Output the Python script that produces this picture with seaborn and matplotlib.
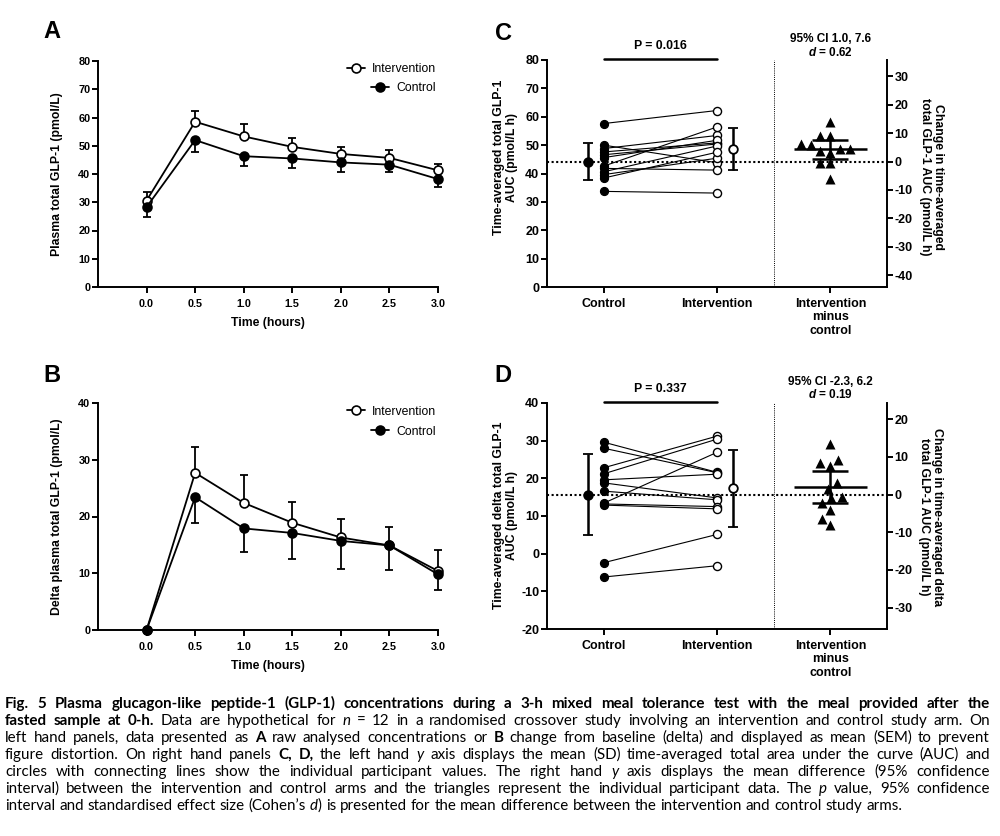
import numpy as np
import pandas as pd
import matplotlib
matplotlib.use("Agg")
import matplotlib.pyplot as plt
import seaborn as sns

# ---------------- data ----------------
times = [0.0, 0.5, 1.0, 1.5, 2.0, 2.5, 3.0]
time_labels = ["0.0", "0.5", "1.0", "1.5", "2.0", "2.5", "3.0"]
arms = ["Intervention", "Control"]

# Panel A: plasma total GLP-1, mean (SEM)
a_int_mean = [30.6, 58.5, 53.3, 49.6, 47.1, 45.7, 41.3]
a_int_sem = [3.0, 3.9, 4.3, 3.2, 2.4, 2.9, 2.4]
a_ctl_mean = [28.3, 52.0, 46.3, 45.5, 44.1, 43.3, 38.2]
a_ctl_sem = [3.4, 4.2, 3.4, 3.2, 3.3, 2.5, 2.9]

# Panel B: delta plasma total GLP-1, mean (SEM)
b_int_mean = [0.0, 27.7, 22.4, 18.9, 16.3, 14.9, 10.4]
b_int_sem = [0.0, 4.6, 5.0, 3.6, 3.3, 3.2, 3.7]
b_ctl_mean = [0.0, 23.4, 17.9, 17.1, 15.7, 14.9, 9.8]
b_ctl_sem = [0.0, 4.5, 4.1, 4.6, 4.9, 4.3, 2.7]

# Panel C: time-averaged total GLP-1 AUC, individual participants
c_control = [57.6, 50.0, 48.8, 47.6, 46.6, 45.6, 42.6, 41.8, 40.6, 39.6, 38.4, 33.7]
c_intervention = [62.2, 43.8, 53.4, 50.8, 50.4, 51.7, 56.4, 41.2, 49.7, 45.4, 47.5, 33.1]
c_group_mean = [44.2, 48.5]
c_group_sd = [6.4, 7.4]
c_diff_mean = 4.3
c_diff_ci = [1.0, 7.6]

# Panel D: time-averaged delta total GLP-1 AUC, individual participants
d_control = [29.6, 28.0, 22.8, 21.2, 19.6, 18.8, 16.6, 13.4, 13.2, 12.9, -2.4, -6.2]
d_intervention = [21.6, 21.5, 31.2, 30.4, 21.1, 14.8, 14.3, 26.9, 12.5, 11.9, 5.1, -3.2]
d_group_mean = [15.7, 17.4]
d_group_sd = [10.8, 10.2]
d_diff_mean = 1.9
d_diff_ci = [-2.3, 6.2]

group_labels = ["Control", "Intervention", "Intervention\nminus\ncontrol"]

caption_lines = [
    [("Fig. 5", "b"), (" Plasma glucagon-like peptide-1 (GLP-1) concentrations during a 3-h mixed meal tolerance test with the meal provided after the", "b")],
    [("fasted sample at 0-h.", "b"), (" Data are hypothetical for ", "r"), ("n", "i"),
     (" = 12 in a randomised crossover study involving an intervention and control study arm. On", "r")],
    [("left hand panels, data presented as ", "r"), ("A", "b"), (" raw analysed concentrations or ", "r"), ("B", "b"),
     (" change from baseline (delta) and displayed as mean (SEM) to prevent", "r")],
    [("figure distortion. On right hand panels ", "r"), ("C, D,", "b"), (" the left hand ", "r"), ("y", "i"),
     (" axis displays the mean (SD) time-averaged total area under the curve (AUC) and", "r")],
    [("circles with connecting lines show the individual participant values. The right hand ", "r"), ("y", "i"),
     (" axis displays the mean difference (95% confidence", "r")],
    [("interval) between the intervention and control arms and the triangles represent the individual participant data. The ", "r"),
     ("p", "i"), (" value, 95% confidence", "r")],
    [("interval and standardised effect size (Cohen\u2019s ", "r"), ("d", "i"),
     (") is presented for the mean difference between the intervention and control study arms.", "r")],
]

# ---------------- style ----------------
sns.set_theme(style="ticks", rc={
    "axes.edgecolor": "black", "axes.linewidth": 1.4, "text.color": "black",
    "axes.labelcolor": "black", "xtick.color": "black", "ytick.color": "black",
    "xtick.major.width": 1.4, "ytick.major.width": 1.4,
    "xtick.major.size": 4, "ytick.major.size": 4,
})
plt.rcParams["font.family"] = ["Liberation Sans", "DejaVu Sans"]
plt.rcParams["font.weight"] = "bold"
plt.rcParams["axes.labelweight"] = "bold"
plt.rcParams["axes.unicode_minus"] = False
plt.rcParams["mathtext.fontset"] = "custom"
plt.rcParams["mathtext.it"] = "Liberation Sans:italic:bold"
plt.rcParams["mathtext.rm"] = "Liberation Sans:bold"

W, H = 1000, 836
fig = plt.figure(figsize=(W / 100, H / 100), dpi=100)
fig.patch.set_facecolor("white")


def rect(l, t, r, b):
    return [l / W, 1 - b / H, (r - l) / W, (b - t) / H]


axA = fig.add_axes(rect(98, 61, 438, 287))
axB = fig.add_axes(rect(98, 403, 438, 630))
axC = fig.add_axes(rect(547, 60, 887, 287))
axD = fig.add_axes(rect(547, 403, 887, 629))


def timecourse(ax, im, isem, cm, csem, ylim, ystep, ylabel, leg_y):
    n = len(times)
    df = pd.DataFrame({"time": times * 2, "value": im + cm, "arm": ["Intervention"] * n + ["Control"] * n})
    sems = {"Intervention": isem, "Control": csem}
    faces = {"Intervention": "white", "Control": "black"}
    handles = {}
    for arm in arms:
        sub = df[df["arm"] == arm]
        k = len(ax.lines)
        sns.lineplot(data=sub, x="time", y="value", ax=ax, color="black", lw=1.3,
                     marker="o", ms=6.4, mfc=faces[arm], mec="black", mew=1.2,
                     clip_on=False, zorder=4 if arm == "Control" else 3.5, legend=False)
        handles[arm] = ax.lines[k]
        zeros = [0.0] * n
        yerr = [zeros, sems[arm]] if arm == "Intervention" else [sems[arm], zeros]
        eb = ax.errorbar(sub["time"], sub["value"], yerr=yerr, fmt="none", ecolor="black",
                         elinewidth=1.3, capsize=2.8, capthick=1.3, zorder=3)
        for art in list(eb.lines[1]) + list(eb.lines[2]):
            art.set_clip_on(False)
    for i, arm in enumerate(arms):
        leg = ax.legend([handles[arm]], [arm], loc="upper right", bbox_to_anchor=(0.995, leg_y[i]),
                        frameon=False, handlelength=1.5, handletextpad=0.6, borderaxespad=0,
                        borderpad=0, prop={"weight": "normal", "size": 8.8})
        if i == 0:
            ax.add_artist(leg)
    ax.set_xlim(-0.5, 3.0)
    ax.set_ylim(*ylim)
    ax.set_xticks(times)
    ax.set_xticklabels(time_labels)
    ax.set_yticks(np.arange(ylim[0], ylim[1] + 1, ystep))
    ax.set_xlabel("Time (hours)", fontsize=8.8, fontweight="bold", labelpad=6)
    ax.set_ylabel(ylabel, fontsize=8.8, fontweight="bold", va="center", ha="center")
    ax.yaxis.set_label_coords(-0.12, 0.5)
    ax.tick_params(axis="x", labelsize=7.8, pad=4.5)
    ax.tick_params(axis="y", labelsize=7.8, pad=1.5)
    for lab in ax.get_xticklabels() + ax.get_yticklabels():
        lab.set_fontweight("bold")
    sns.despine(ax=ax)


def paired(ax, ctl, itv, gmean, gsd, dmean, dci, ylim, ystep, rticks, ylabel, rlabel,
           ptxt, citxt, dtxt, lab_xy, rlab_xy, text_y):
    n = len(ctl)
    long = pd.DataFrame({"pid": list(range(n)) * 2, "x": [0.0] * n + [1.0] * n, "value": ctl + itv})
    sns.lineplot(data=long, x="x", y="value", units="pid", estimator=None, color="black",
                 lw=0.8, ax=ax, legend=False, zorder=2)
    sns.scatterplot(x=[0.0] * n, y=ctl, ax=ax, color="black", edgecolor="black", s=34,
                    linewidth=0.8, zorder=3, legend=False)
    sns.scatterplot(x=[1.0] * n, y=itv, ax=ax, color="white", edgecolor="black", s=34,
                    linewidth=1.0, zorder=3, legend=False)
    for xpos, m, sd, face in [(-0.14, gmean[0], gsd[0], "black"), (1.14, gmean[1], gsd[1], "white")]:
        ax.errorbar([xpos], [m], yerr=[sd], fmt="o", ms=6.2, mfc=face, mec="black", mew=1.3,
                    ecolor="black", elinewidth=1.8, capsize=3.6, capthick=1.8, zorder=4)
    ax.axhline(gmean[0], color="black", lw=1.5, ls=(0, (1, 1.2)), zorder=1)
    ax.axvline(1.5, color="black", lw=0.7, ls=(0, (1, 1.2)), zorder=1)

    ax2 = ax.twinx()
    diff = [b - a for a, b in zip(ctl, itv)]
    sns.swarmplot(x=np.full(n, 2.0), y=diff, ax=ax2, native_scale=True, orient="x",
                  marker="^", color="black", size=7.2, zorder=3)
    ax2.hlines(dmean, 2 - 0.32, 2 + 0.32, color="black", lw=1.8, zorder=4)
    ax2.errorbar([2.0], [dmean], yerr=[[dmean - dci[0]], [dci[1] - dmean]], fmt="none",
                 ecolor="black", elinewidth=1.8, capsize=13, capthick=1.8, zorder=4)

    ax.set_ylim(*ylim)
    ax.set_yticks(np.arange(ylim[0], ylim[1] + 1, ystep))
    ax2.set_ylim(ylim[0] - gmean[0], ylim[1] - gmean[0])
    ax2.set_yticks(rticks)
    ax.set_xlim(-0.5, 2.5)
    ax.set_xticks([0, 1, 2])
    ax.set_xticklabels(group_labels, linespacing=1.15)
    ax.set_xlabel("")
    ax.set_ylabel(ylabel, fontsize=8.8, fontweight="bold", va="center", ha="center",
                  multialignment="center", linespacing=1.1)
    ax.yaxis.set_label_coords(*lab_xy)
    ax2.set_ylabel(rlabel, fontsize=8.8, fontweight="bold", rotation=270, va="center",
                   ha="center", multialignment="center", linespacing=1.1)
    ax2.yaxis.set_label_coords(*rlab_xy)
    ax.tick_params(axis="x", labelsize=9, pad=4)
    ax.tick_params(axis="y", labelsize=9, pad=1.5)
    ax2.tick_params(axis="y", labelsize=9, pad=1.5, length=4, width=1.4)
    for lab in ax.get_xticklabels() + ax.get_yticklabels() + ax2.get_yticklabels():
        lab.set_fontweight("bold")
    ax.spines[["top", "right"]].set_visible(False)
    ax2.spines[["top", "left", "bottom"]].set_visible(False)
    ax2.spines["right"].set_linewidth(1.4)

    trans = ax.get_xaxis_transform()
    ax.plot([0, 1], [1.004, 1.004], transform=trans, color="black", lw=1.8, clip_on=False)
    ax.text(0.5, text_y[0], ptxt, transform=trans, ha="center", va="center", fontsize=8.8, fontweight="bold")
    ax.text(2.0, text_y[1], citxt, transform=trans, ha="center", va="center", fontsize=8.5, fontweight="bold")
    ax.text(2.0, text_y[2], dtxt, transform=trans, ha="center", va="center", fontsize=8.5, fontweight="bold")


timecourse(axA, a_int_mean, a_int_sem, a_ctl_mean, a_ctl_sem, (0, 80), 10,
           "Plasma total GLP-1 (pmol/L)", (0.99, 0.905))
timecourse(axB, b_int_mean, b_int_sem, b_ctl_mean, b_ctl_sem, (0, 40), 10,
           "Delta plasma total GLP-1 (pmol/L)", (0.988, 0.9))

paired(axC, c_control, c_intervention, c_group_mean, c_group_sd, c_diff_mean, c_diff_ci,
       (0, 80), 10, np.arange(-40, 31, 10),
       "Time-averaged total GLP-1\nAUC (pmol/L h)",
       "Change in time-averaged\ntotal GLP-1 AUC (pmol/L h)",
       "P = 0.016", "95% CI 1.0, 7.6", "$d$ = 0.62",
       (-0.122, 0.57), (1.132, 0.486), (1.062, 1.092, 1.031))
paired(axD, d_control, d_intervention, d_group_mean, d_group_sd, d_diff_mean, d_diff_ci,
       (-20, 40), 10, np.arange(-30, 21, 10),
       "Time-averaged delta total GLP-1\nAUC (pmol/L h)",
       "Change in time-averaged delta\ntotal GLP-1 AUC (pmol/L h)",
       "P = 0.337", "95% CI -2.3, 6.2", "$d$ = 0.19",
       (-0.122, 0.504), (1.128, 0.497), (1.062, 1.095, 1.036))

for letter, (x, y) in {"A": (52, 31), "B": (52, 375), "C": (503, 33), "D": (503, 375)}.items():
    fig.text(x / W, 1 - y / H, letter, fontsize=17, fontweight="bold", ha="center", va="center")


# ---------------- caption (justified) ----------------
def draw_caption(lines, x0, x1, baselines, base_size, family):
    r = fig.canvas.get_renderer()
    smap = {"r": dict(weight="normal", style="normal"), "b": dict(weight="bold", style="normal"),
            "i": dict(weight="normal", style="italic")}

    def make(txt, st, sz):
        return fig.text(0, 0, txt, fontsize=sz, family=family, va="baseline", ha="left", **smap[st])

    def wid(t):
        return t.get_window_extent(renderer=r).width

    a1 = make("aa", "r", base_size)
    a2 = make("a a", "r", base_size)
    space = wid(a2) - wid(a1)
    a1.remove()
    a2.remove()

    for li, runs in enumerate(lines):
        words, cur = [], []
        for text, st in runs:
            for ch in text:
                if ch == " ":
                    if cur:
                        words.append(cur)
                        cur = []
                else:
                    if cur and cur[-1][1] == st:
                        cur[-1] = (cur[-1][0] + ch, st)
                    else:
                        cur.append((ch, st))
        if cur:
            words.append(cur)
        justify = li < len(lines) - 1
        size = base_size
        while True:
            arts = [[make(t, st, size) for t, st in w] for w in words]
            widths = [[wid(a) for a in w] for w in arts]
            total = sum(sum(w) for w in widths)
            gap = (x1 - x0 - total) / (len(words) - 1) if justify else space * size / base_size
            if gap >= 0.75 * space * size / base_size or size < base_size * 0.8:
                break
            for w in arts:
                for a in w:
                    a.remove()
            size *= 0.99
        x = x0
        for w, ws in zip(arts, widths):
            for a, aw in zip(w, ws):
                a.set_position((x / W, 1 - baselines[li] / H))
                x += aw
            x += gap


draw_caption(caption_lines, 5, 990, [708, 725, 742, 759, 776, 793, 810], 10.9, ["Lato", "DejaVu Sans"])

fig.savefig("out.png", dpi=100, facecolor="white")
